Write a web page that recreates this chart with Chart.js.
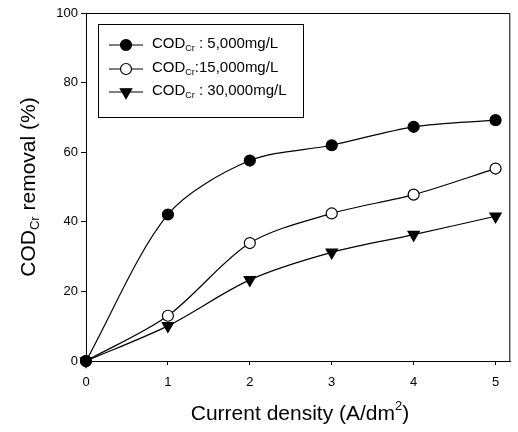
<!DOCTYPE html>
<html>
<head>
<meta charset="utf-8">
<script src="https://cdn.jsdelivr.net/npm/chart.js@4/dist/chart.umd.min.js"></script>
<style>
  html, body { margin: 0; padding: 0; background: #fff; }
  #wrap { width: 518px; height: 432px; }
</style>
</head>
<body>
<div id="wrap"><canvas id="c" width="518" height="432"></canvas></div>
<script>
// Current density (A/dm2) and COD_Cr removal (%) for three initial concentrations
const currentDensity = [0, 1, 2, 3, 4, 5];
const removal5000  = [0, 42.1, 57.6, 62.0, 67.3, 69.2];
const removal15000 = [0, 13.0, 33.9, 42.4, 47.8, 55.3];
const removal30000 = [0, 10.1, 23.3, 31.2, 36.3, 41.6];
const seriesSuffix = [' : 5,000mg/L', ':15,000mg/L', ' : 30,000mg/L'];
const xTicks = [0, 1, 2, 3, 4, 5];
const yTicks = [0, 20, 40, 60, 80, 100];

const FONT = '"Liberation Sans", Arial, sans-serif';

function pts(vals) { return currentDensity.map((x, i) => ({ x: x, y: vals[i] })); }

const common = {
  borderColor: '#000',
  borderWidth: 1.2,
  pointBorderColor: '#000',
  pointBorderWidth: 1.2,
  tension: 0.3,
  clip: false
};

const datasets = [
  Object.assign({}, common, {
    label: 'COD_Cr' + seriesSuffix[0], data: pts(removal5000),
    pointStyle: 'circle', pointRadius: 5.5, pointBackgroundColor: '#000'
  }),
  Object.assign({}, common, {
    label: 'COD_Cr' + seriesSuffix[1], data: pts(removal15000),
    pointStyle: 'circle', pointRadius: 5.5, pointBackgroundColor: '#fff'
  }),
  Object.assign({}, common, {
    label: 'COD_Cr' + seriesSuffix[2], data: pts(removal30000),
    pointStyle: 'triangle', pointRotation: 180, pointRadius: 6.5, pointBackgroundColor: '#000'
  })
];

// draws "COD" with a subscript "Cr" followed by a suffix; returns end x
function codText(ctx, x, y, size, suffix) {
  ctx.font = size + 'px ' + FONT;
  ctx.fillText('COD', x, y);
  x += ctx.measureText('COD').width;
  const sub = Math.round(size * 0.6);
  ctx.font = sub + 'px ' + FONT;
  ctx.fillText('Cr', x, y + size * 0.3);
  x += ctx.measureText('Cr').width;
  ctx.font = size + 'px ' + FONT;
  ctx.fillText(suffix, x, y);
  return x + ctx.measureText(suffix).width;
}

function codWidth(ctx, size, suffix) {
  ctx.font = size + 'px ' + FONT;
  let w = ctx.measureText('COD').width + ctx.measureText(suffix).width;
  ctx.font = Math.round(size * 0.6) + 'px ' + FONT;
  return w + ctx.measureText('Cr').width;
}

function drawMarker(ctx, ds, x, y) {
  const r = ds.pointRadius;
  ctx.lineWidth = 1.2;
  ctx.fillStyle = ds.pointBackgroundColor;
  ctx.strokeStyle = '#000';
  ctx.beginPath();
  if (ds.pointStyle === 'triangle') {
    ctx.moveTo(x - r * 0.87, y - r * 0.5);
    ctx.lineTo(x + r * 0.87, y - r * 0.5);
    ctx.lineTo(x, y + r);
    ctx.closePath();
  } else {
    ctx.arc(x, y, r, 0, Math.PI * 2);
  }
  ctx.fill();
  ctx.stroke();
}

const decor = {
  id: 'decor',
  afterDraw(chart) {
    const ctx = chart.ctx;
    const a = chart.chartArea;
    ctx.save();
    ctx.strokeStyle = '#000';
    ctx.lineWidth = 1;
    // top and right frame lines
    ctx.beginPath();
    ctx.moveTo(a.left, a.top + 0.5);
    ctx.lineTo(a.right - 0.5, a.top + 0.5);
    ctx.lineTo(a.right - 0.5, a.bottom);
    ctx.stroke();

    // legend box
    const lx = 98, ly = 24, lw = 205, lh = 93;
    ctx.fillStyle = '#fff';
    ctx.fillRect(lx, ly, lw, lh);
    ctx.strokeRect(lx + 0.5, ly + 0.5, lw, lh);
    const rows = [45, 69, 92];
    ctx.textBaseline = 'middle';
    ctx.textAlign = 'left';
    chart.data.datasets.forEach((ds, i) => {
      const y = rows[i];
      ctx.strokeStyle = '#000';
      ctx.lineWidth = 1.2;
      ctx.beginPath();
      ctx.moveTo(109, y);
      ctx.lineTo(143, y);
      ctx.stroke();
      drawMarker(ctx, ds, 126, y);
      ctx.fillStyle = '#000';
      codText(ctx, 152, y - 1, 15, seriesSuffix[i]);
    });

    // axis titles
    ctx.fillStyle = '#000';
    ctx.textBaseline = 'middle';
    const ySuffix = ' removal (%)';
    ctx.save();
    ctx.translate(29, 187);
    ctx.rotate(-Math.PI / 2);
    const w = codWidth(ctx, 21, ySuffix);
    codText(ctx, -w / 2, 0, 21, ySuffix);
    ctx.restore();

    const t1 = 'Current density (A/dm', t2 = '2', t3 = ')';
    ctx.font = '21px ' + FONT;
    const w1 = ctx.measureText(t1).width, w3 = ctx.measureText(t3).width;
    ctx.font = '13px ' + FONT;
    const w2 = ctx.measureText(t2).width;
    let x = 300 - (w1 + w2 + w3) / 2;
    const yT = 414;
    ctx.font = '21px ' + FONT;
    ctx.fillText(t1, x, yT);
    x += w1;
    ctx.font = '13px ' + FONT;
    ctx.fillText(t2, x, yT - 8);
    x += w2;
    ctx.font = '21px ' + FONT;
    ctx.fillText(t3, x, yT);
    ctx.restore();
  }
};

new Chart(document.getElementById('c'), {
  type: 'line',
  data: { datasets: datasets },
  options: {
    responsive: false,
    animation: false,
    devicePixelRatio: 1,
    layout: { padding: { top: 13, right: 1, left: 0, bottom: 0 } },
    plugins: { legend: { display: false }, tooltip: { enabled: false } },
    scales: {
      x: {
        type: 'linear', min: 0, max: 5.18,
        afterBuildTicks(s) { s.ticks = xTicks.map(v => ({ value: v })); },
        afterFit(s) { s.height = 71; },
        border: { display: true, color: '#000', width: 1 },
        grid: { drawOnChartArea: false, drawTicks: true, tickLength: 4, color: '#000' },
        ticks: { color: '#000', font: { family: FONT, size: 13 }, padding: 10, maxRotation: 0 }
      },
      y: {
        type: 'linear', min: 0, max: 100,
        afterBuildTicks(s) { s.ticks = yTicks.map(v => ({ value: v })); },
        afterFit(s) { s.width = 86; },
        border: { display: true, color: '#000', width: 1 },
        grid: { drawOnChartArea: false, drawTicks: true, tickLength: 5, color: '#000' },
        ticks: { color: '#000', font: { family: FONT, size: 13 }, padding: 3 }
      }
    }
  },
  plugins: [decor]
});
</script>
</body>
</html>
